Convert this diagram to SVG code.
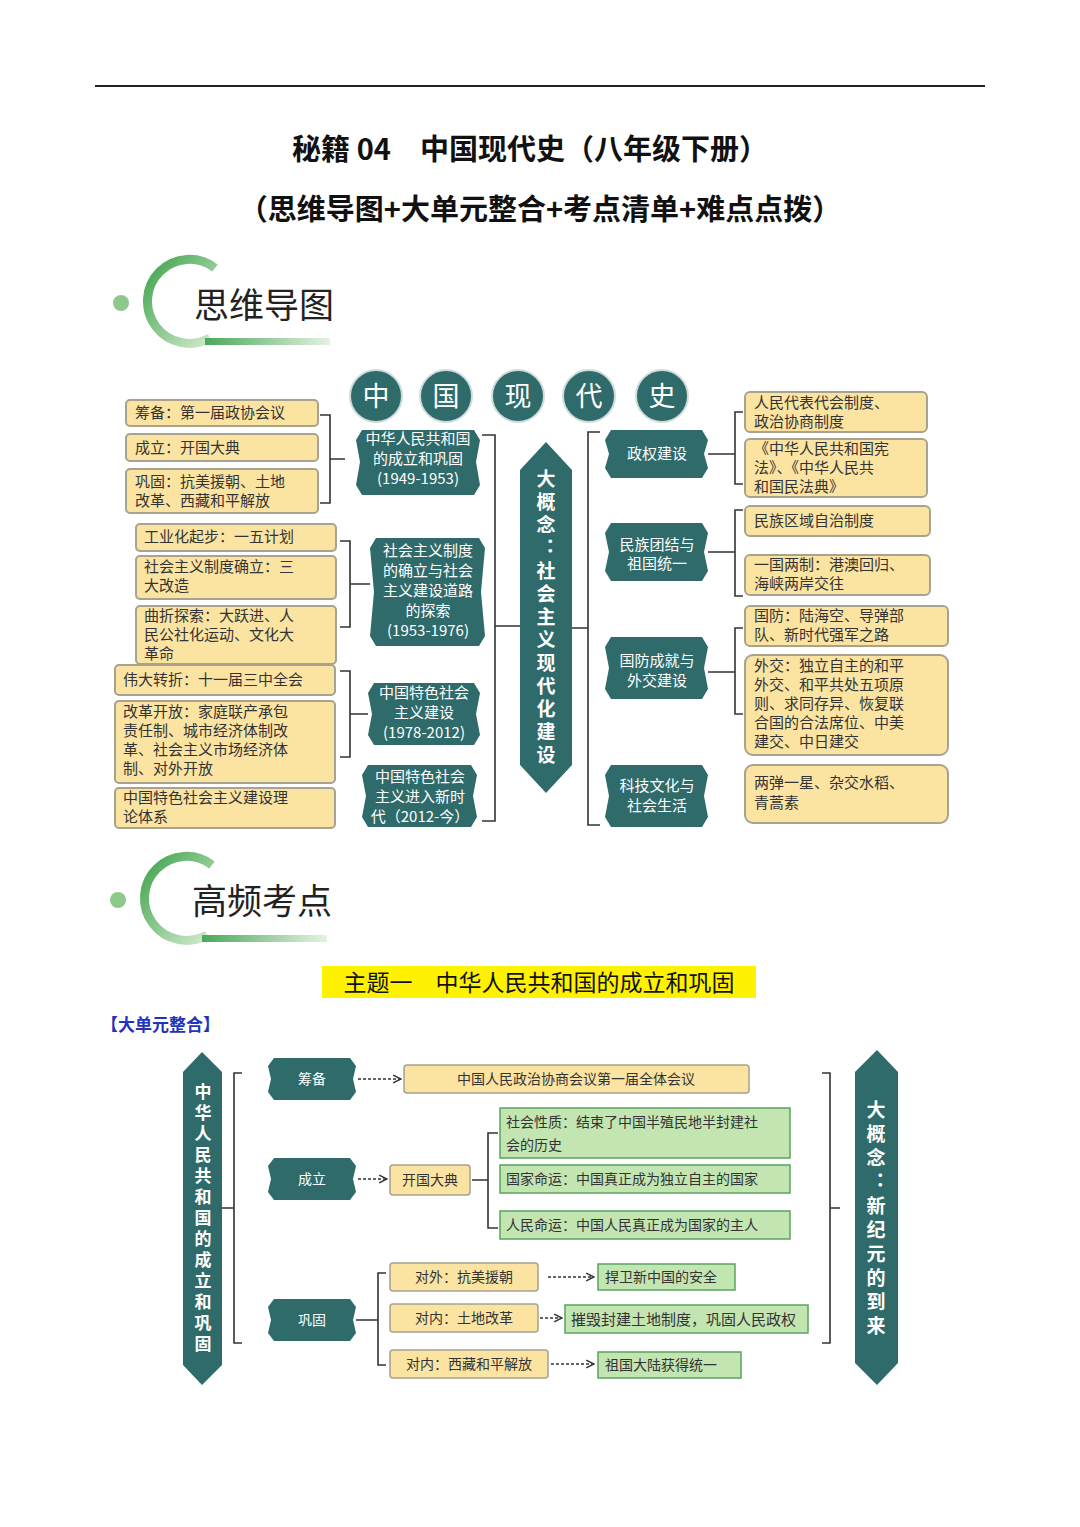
<svg xmlns="http://www.w3.org/2000/svg" width="1080" height="1527" viewBox="0 0 1080 1527">
<defs>
<linearGradient id="arcg" x1="0" y1="0" x2="1" y2="1"><stop offset="0" stop-color="#3fa34d"/><stop offset="1" stop-color="#d6ecd0"/></linearGradient>
<linearGradient id="barg" x1="0" y1="0" x2="1" y2="0"><stop offset="0" stop-color="#4aa85a"/><stop offset="1" stop-color="#e6f2e2"/></linearGradient>
<marker id="ah" markerWidth="8" markerHeight="8" refX="7" refY="4" orient="auto"><path d="M1,1 L7,4 L1,7" fill="none" stroke="#333" stroke-width="1.2"/></marker>
</defs>
<style>
text{font-family:"Noto Sans CJK SC","Liberation Sans",sans-serif;}
.ttl{font-size:29px;font-weight:bold;fill:#111;}
.hd{font-size:35px;fill:#222;}
.circ{fill:#2f6b6b;stroke:#cfdcdc;stroke-width:2;}
.ct{font-size:27px;fill:#fff;text-anchor:middle;}
.yb{fill:#fbe3a2;stroke:#a7a38f;stroke-width:2;}
.gb{fill:#c3e5b2;stroke:#5aa45e;stroke-width:1.5;}
.tn{fill:#2f6b6b;}
.yt{font-size:15px;fill:#333;}
.wt{font-size:15px;fill:#fff;text-anchor:middle;}
.br{fill:none;stroke:#333;stroke-width:1.6;}
.dash{fill:none;stroke:#333;stroke-width:1.3;stroke-dasharray:3,2;marker-end:url(#ah);}
.st{font-size:14px;fill:#333;}
.vt{font-weight:bold;fill:#fff;text-anchor:middle;writing-mode:vertical-rl;}
</style>

<line x1="95" y1="86" x2="985" y2="86" stroke="#222" stroke-width="2"/>
<text class="ttl" x="530" y="160" text-anchor="middle">秘籍 04　中国现代史（八年级下册）</text>
<text class="ttl" x="540" y="220" text-anchor="middle">（思维导图+大单元整合+考点清单+难点点拨）</text>

<g id="hdr1">
<circle cx="121" cy="303" r="8" fill="#8cc98a"/>
<path d="M215,268 A42,42 0 1 0 210,338" fill="none" stroke="url(#arcg)" stroke-width="9"/>
<rect x="205" y="338" width="125" height="7" fill="url(#barg)"/>
<text class="hd" x="194" y="318">思维导图</text>
</g>

<g id="title-circles">
<circle class="circ" cx="376" cy="396" r="26"/><text class="ct" x="376" y="406">中</text>
<circle class="circ" cx="446" cy="396" r="26"/><text class="ct" x="446" y="406">国</text>
<circle class="circ" cx="518" cy="396" r="26"/><text class="ct" x="518" y="406">现</text>
<circle class="circ" cx="589" cy="396" r="26"/><text class="ct" x="589" y="406">代</text>
<circle class="circ" cx="662" cy="396" r="26"/><text class="ct" x="662" y="406">史</text>
</g>

<g id="l1"><rect class="yb" x="126" y="400" width="192" height="26" rx="4"/><text class="yt" x="135" y="418">筹备：第一届政协会议</text></g>
<g id="l2"><rect class="yb" x="126" y="434" width="192" height="27" rx="4"/><text class="yt" x="135" y="453">成立：开国大典</text></g>
<g id="l3"><rect class="yb" x="126" y="469" width="192" height="44" rx="4"/><text class="yt" x="135" y="487">巩固：抗美援朝、土地</text><text class="yt" x="135" y="506">改革、西藏和平解放</text></g>
<g id="l4"><rect class="yb" x="136" y="524" width="200" height="27" rx="4"/><text class="yt" x="144" y="542">工业化起步：一五计划</text></g>
<g id="l5"><rect class="yb" x="136" y="556" width="200" height="43" rx="4"/><text class="yt" x="144" y="572">社会主义制度确立：三</text><text class="yt" x="144" y="591">大改造</text></g>
<g id="l6"><rect class="yb" x="136" y="606" width="200" height="58" rx="4"/><text class="yt" x="144" y="621">曲折探索：大跃进、人</text><text class="yt" x="144" y="640">民公社化运动、文化大</text><text class="yt" x="144" y="659">革命</text></g>
<g id="l7"><rect class="yb" x="115" y="665" width="220" height="30" rx="4"/><text class="yt" x="123" y="685">伟大转折：十一届三中全会</text></g>
<g id="l8"><rect class="yb" x="115" y="701" width="220" height="82" rx="4"/><text class="yt" x="123" y="717">改革开放：家庭联产承包</text><text class="yt" x="123" y="736">责任制、城市经济体制改</text><text class="yt" x="123" y="755">革、社会主义市场经济体</text><text class="yt" x="123" y="774">制、对外开放</text></g>
<g id="l9"><rect class="yb" x="115" y="788" width="220" height="40" rx="4"/><text class="yt" x="123" y="803">中国特色社会主义建设理</text><text class="yt" x="123" y="822">论体系</text></g>

<g id="nA"><path class="tn" d="M362,430 H474 L480,440 L476,462 L480,485 L474,495 H362 L356,485 L360,462 L356,440 Z"/><text class="wt" x="418" y="444">中华人民共和国</text><text class="wt" x="418" y="464">的成立和巩固</text><text class="wt" x="418" y="484">(1949-1953)</text></g>
<g id="nB"><path class="tn" d="M376,538 H479 L485,548 L481,592 L485,636 L479,646 H376 L370,636 L374,592 L370,548 Z"/><text class="wt" x="428" y="556">社会主义制度</text><text class="wt" x="428" y="576">的确立与社会</text><text class="wt" x="428" y="596">主义建设道路</text><text class="wt" x="428" y="616">的探索</text><text class="wt" x="428" y="636">(1953-1976)</text></g>
<g id="nC"><path class="tn" d="M374,683 H474 L480,693 L476,714 L480,735 L474,745 H374 L368,735 L372,714 L368,693 Z"/><text class="wt" x="424" y="698">中国特色社会</text><text class="wt" x="424" y="718">主义建设</text><text class="wt" x="424" y="738">(1978-2012)</text></g>
<g id="nD"><path class="tn" d="M368,765 H471 L477,775 L473,796 L477,817 L471,827 H368 L362,817 L366,796 L362,775 Z"/><text class="wt" x="420" y="782">中国特色社会</text><text class="wt" x="420" y="802">主义进入新时</text><text class="wt" x="420" y="822">代（2012-今）</text></g>

<g id="center"><path class="tn" d="M546,442 L572,470 V765 L546,793 L520,765 V470 Z"/>
<text class="vt" x="546" y="619" style="font-size:19px;letter-spacing:4px">大概念：社会主义现代化建设</text></g>

<g id="rA"><path class="tn" d="M611,430 H702 L708,440 L704,454 L708,468 L702,478 H611 L605,468 L609,454 L605,440 Z"/><text class="wt" x="657" y="459">政权建设</text></g>
<g id="rB"><path class="tn" d="M611,523 H702 L708,533 L704,552 L708,571 L702,581 H611 L605,571 L609,552 L605,533 Z"/><text class="wt" x="657" y="550">民族团结与</text><text class="wt" x="657" y="569">祖国统一</text></g>
<g id="rC"><path class="tn" d="M611,637 H702 L708,647 L704,668 L708,689 L702,699 H611 L605,689 L609,668 L605,647 Z"/><text class="wt" x="657" y="666">国防成就与</text><text class="wt" x="657" y="686">外交建设</text></g>
<g id="rD"><path class="tn" d="M611,765 H702 L708,775 L704,796 L708,817 L702,827 H611 L605,817 L609,796 L605,775 Z"/><text class="wt" x="657" y="791">科技文化与</text><text class="wt" x="657" y="811">社会生活</text></g>

<g id="r1"><rect class="yb" x="745" y="392" width="182" height="40" rx="5"/><text class="yt" x="754" y="408">人民代表代会制度、</text><text class="yt" x="754" y="427">政治协商制度</text></g>
<g id="r2"><rect class="yb" x="745" y="439" width="182" height="58" rx="5"/><text class="yt" x="754" y="454">《中华人民共和国宪</text><text class="yt" x="754" y="473">法》、《中华人民共</text><text class="yt" x="754" y="492">和国民法典》</text></g>
<g id="r3"><rect class="yb" x="745" y="506" width="185" height="30" rx="5"/><text class="yt" x="754" y="526">民族区域自治制度</text></g>
<g id="r4"><rect class="yb" x="745" y="555" width="185" height="40" rx="5"/><text class="yt" x="754" y="570">一国两制：港澳回归、</text><text class="yt" x="754" y="589">海峡两岸交往</text></g>
<g id="r5"><rect class="yb" x="745" y="606" width="203" height="40" rx="5"/><text class="yt" x="754" y="621">国防：陆海空、导弹部</text><text class="yt" x="754" y="640">队、新时代强军之路</text></g>
<g id="r6"><rect class="yb" x="745" y="655" width="203" height="100" rx="8"/><text class="yt" x="754" y="671">外交：独立自主的和平</text><text class="yt" x="754" y="690">外交、和平共处五项原</text><text class="yt" x="754" y="709">则、求同存异、恢复联</text><text class="yt" x="754" y="728">合国的合法席位、中美</text><text class="yt" x="754" y="747">建交、中日建交</text></g>
<g id="r7"><rect class="yb" x="745" y="765" width="203" height="58" rx="8"/><text class="yt" x="754" y="788">两弹一星、杂交水稻、</text><text class="yt" x="754" y="808">青蒿素</text></g>

<g id="connectors1">
<path class="br" d="M320,415 H330 V503 H320 M330,459 H345"/>
<path class="br" d="M340,541 H350 V627 H340 M350,584 H370"/>
<path class="br" d="M340,671 H350 V757 H340 M350,714 H368"/>
<path class="br" d="M482,435 H495 V821 H482 M495,626 H520"/>
<path class="br" d="M600,432 H588 V825 H600 M572,628 H588"/>
<path class="br" d="M743,412 H735 V484 H743 M708,454 H735"/>
<path class="br" d="M743,510 H735 V596 H743 M708,552 H735"/>
<path class="br" d="M743,628 H735 V714 H743 M708,672 H735"/>
</g>

<g id="hdr2">
<circle cx="118" cy="900" r="8" fill="#8cc98a"/>
<path d="M212,865 A42,42 0 1 0 207,935" fill="none" stroke="url(#arcg)" stroke-width="9"/>
<rect x="202" y="935" width="125" height="7" fill="url(#barg)"/>
<text class="hd" x="192" y="914">高频考点</text>
</g>

<rect x="322" y="966" width="434" height="32" fill="#fff200"/>
<text x="539" y="991" text-anchor="middle" style="font-size:23px;fill:#111;">主题一　中华人民共和国的成立和巩固</text>
<text x="101" y="1031" style="font-size:17px;font-weight:bold;fill:#2233bb;">【大单元整合】</text>

<g id="leftHex"><path class="tn" d="M202,1052 L222,1072 V1365 L202,1385 L183,1365 V1072 Z"/>
<text class="vt" x="203" y="1220" style="font-size:17px;letter-spacing:4px">中华人民共和国的成立和巩固</text></g>
<g id="rightHex"><path class="tn" d="M877,1050 L898,1072 V1363 L877,1385 L855,1363 V1072 Z"/>
<text class="vt" x="876" y="1220" style="font-size:19px;letter-spacing:5px">大概念：新纪元的到来</text></g>

<g id="n筹备"><path class="tn" d="M274,1058 H350 L356,1066 L353,1079 L356,1092 L350,1100 H274 L268,1092 L271,1079 L268,1066 Z"/><text class="wt" x="312" y="1084" style="font-size:14px">筹备</text></g>
<g id="n成立"><path class="tn" d="M274,1158 H350 L356,1166 L353,1179 L356,1192 L350,1200 H274 L268,1192 L271,1179 L268,1166 Z"/><text class="wt" x="312" y="1184" style="font-size:14px">成立</text></g>
<g id="n巩固"><path class="tn" d="M274,1299 H350 L356,1307 L353,1320 L356,1333 L350,1341 H274 L268,1333 L271,1320 L268,1307 Z"/><text class="wt" x="312" y="1325" style="font-size:14px">巩固</text></g>

<g id="b1"><rect class="yb" x="404" y="1065" width="345" height="28" rx="3" style="stroke-width:1.5"/><text class="st" x="576" y="1084" text-anchor="middle">中国人民政治协商会议第一届全体会议</text></g>
<g id="b2"><rect class="yb" x="390" y="1165" width="80" height="30" rx="3" style="stroke-width:1.5"/><text class="st" x="430" y="1185" text-anchor="middle">开国大典</text></g>
<g id="g1"><rect class="gb" x="500" y="1108" width="290" height="50"/><text class="st" x="506" y="1127">社会性质：结束了中国半殖民地半封建社</text><text class="st" x="506" y="1150">会的历史</text></g>
<g id="g2"><rect class="gb" x="500" y="1165" width="290" height="28"/><text class="st" x="506" y="1184">国家命运：中国真正成为独立自主的国家</text></g>
<g id="g3"><rect class="gb" x="500" y="1211" width="290" height="28"/><text class="st" x="506" y="1230">人民命运：中国人民真正成为国家的主人</text></g>
<g id="b3"><rect class="yb" x="390" y="1263" width="148" height="28" rx="3" style="stroke-width:1.5"/><text class="st" x="464" y="1282" text-anchor="middle">对外：抗美援朝</text></g>
<g id="b4"><rect class="yb" x="390" y="1304" width="148" height="28" rx="3" style="stroke-width:1.5"/><text class="st" x="464" y="1323" text-anchor="middle">对内：土地改革</text></g>
<g id="b5"><rect class="yb" x="390" y="1350" width="158" height="28" rx="3" style="stroke-width:1.5"/><text class="st" x="469" y="1369" text-anchor="middle">对内：西藏和平解放</text></g>
<g id="g4"><rect class="gb" x="598" y="1264" width="137" height="26"/><text class="st" x="605" y="1282">捍卫新中国的安全</text></g>
<g id="g5"><rect class="gb" x="565" y="1305" width="243" height="28"/><text class="st" x="571" y="1325" style="font-size:15px">摧毁封建土地制度，巩固人民政权</text></g>
<g id="g6"><rect class="gb" x="598" y="1352" width="143" height="26"/><text class="st" x="605" y="1370">祖国大陆获得统一</text></g>

<g id="connectors2">
<path class="br" d="M242,1073 H234 V1343 H242 M222,1208 H234"/>
<path class="br" d="M822,1073 H830 V1343 H822 M830,1208 H840"/>
<path class="dash" d="M358,1079 H401"/>
<path class="dash" d="M358,1179 H387"/>
<path class="dash" d="M548,1277 H594"/>
<path class="dash" d="M540,1318 H562"/>
<path class="dash" d="M551,1364 H594"/>
<path class="br" d="M498,1133 H488 V1228 H498 M472,1180 H488"/>
<path class="br" d="M386,1273 H378 V1365 H386 M356,1320 H378"/>
</g>
</svg>
